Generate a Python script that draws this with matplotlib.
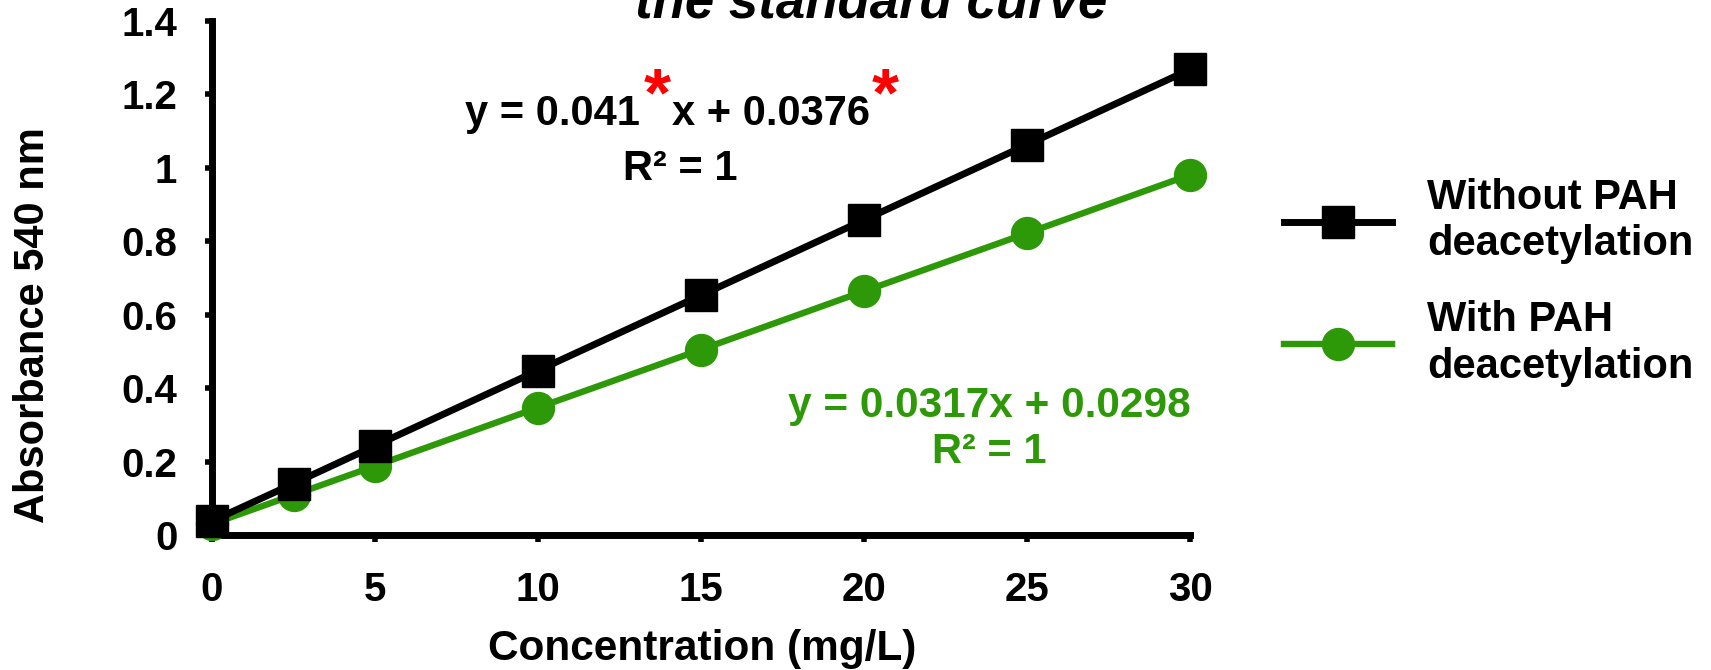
import matplotlib
matplotlib.use("Agg")
import matplotlib.pyplot as plt

plt.rcParams['font.family'] = ['Liberation Sans', 'DejaVu Sans']
plt.rcParams['font.weight'] = 'bold'

# ---- data ----
conc = [0, 2.5, 5, 10, 15, 20, 25, 30]
abs_without = [0.038, 0.140, 0.243, 0.448, 0.653, 0.858, 1.063, 1.268]
abs_with = [0.030, 0.109, 0.188, 0.347, 0.505, 0.664, 0.822, 0.981]
labels = ["Without PAH\ndeacetylation", "With PAH\ndeacetylation"]
xticks = [0, 5, 10, 15, 20, 25, 30]
yticks = [0, 0.2, 0.4, 0.6, 0.8, 1.0, 1.2, 1.4]
ytick_labels = ["0", "0.2", "0.4", "0.6", "0.8", "1", "1.2", "1.4"]
eq_black = ["y = 0.041", "*", "x + 0.0376", "*"]
eq_green = "y = 0.0317x + 0.0298"
r2_text = "R² = 1"
title = "the standard curve"

GREEN = "#2E9908"
FS = 30

W, H = 1711, 670
fig = plt.figure(figsize=(W / 100, H / 100), dpi=100)


def fpos(x, y):
    """pixel position (from top-left) -> figure fraction"""
    return x / W, 1 - y / H


ax = fig.add_axes([212 / W, 1 - 535 / H, (1190 - 212) / W, (535 - 21) / H])

l1, = ax.plot(conc, abs_without, color="black", lw=5, marker="s", ms=23,
              mfc="black", mec="black", clip_on=False, zorder=4, label=labels[0])
l2, = ax.plot(conc, abs_with, color=GREEN, lw=4.6, marker="o", ms=23,
              mfc=GREEN, mec=GREEN, clip_on=False, zorder=3, label=labels[1])

ax.set_xlim(0, 30)
ax.set_ylim(0, 1.4)
ax.set_xticks(xticks)
ax.set_yticks(yticks)
ax.set_yticklabels(ytick_labels)
for s in ["top", "right"]:
    ax.spines[s].set_visible(False)
for s in ["left", "bottom"]:
    ax.spines[s].set_linewidth(5)
    ax.spines[s].set_capstyle("projecting")
ax.tick_params(axis="both", direction="out", length=5, width=4,
               labelsize=29, colors="black")
ax.tick_params(axis="x", pad=36 * 0.72 - 5)
ax.tick_params(axis="y", pad=20)
for t in ax.get_xticklabels() + ax.get_yticklabels():
    t.set_fontweight("bold")

fig.text(*fpos(702, 660), "Concentration (mg/L)", ha="center", va="baseline",
         fontsize=FS + 0.5, fontweight="bold")
fig.text(*fpos(33, 325), "Absorbance 540 nm", ha="center", va="center",
         rotation=90, fontsize=FS, fontweight="bold")
fig.text(*fpos(871, 18), title, ha="center", va="baseline",
         fontsize=38, fontweight="bold", fontstyle="italic")

# black equation built piece by piece (positions chained from measured extents)
fig.canvas.draw()
r = fig.canvas.get_renderer()
bx, by = 465, H - 125  # display pixels (origin bottom-left)
t0 = fig.text(bx, by, eq_black[0], transform=None, fontsize=FS,
              fontweight="bold", va="baseline", ha="left", color="black")
e0 = t0.get_window_extent(r)
a1 = fig.text(e0.x1 + 4, by + 10, eq_black[1], transform=None, fontsize=50,
              fontweight="bold", va="baseline", ha="left", color="red")
e1 = a1.get_window_extent(r)
t2 = fig.text(e1.x1 + 1, by, eq_black[2], transform=None, fontsize=FS,
              fontweight="bold", va="baseline", ha="left", color="black")
e2 = t2.get_window_extent(r)
fig.text(e2.x1 + 2, by + 10, eq_black[3], transform=None, fontsize=50,
         fontweight="bold", va="baseline", ha="left", color="red")
fig.text(*fpos(680, 180), r2_text, fontsize=FS, fontweight="bold",
         va="baseline", ha="center", color="black")

fig.text(*fpos(989, 417), eq_green, fontsize=FS + 0.5, fontweight="bold",
         va="baseline", ha="center", color=GREEN)
fig.text(*fpos(989, 463), r2_text, fontsize=FS, fontweight="bold",
         va="baseline", ha="center", color=GREEN)

leg = fig.legend(handles=[l1, l2], loc="upper left",
                 bbox_to_anchor=fpos(1284, 178), frameon=False,
                 prop={"weight": "bold", "size": FS},
                 handlelength=2.6, handletextpad=0.84, labelspacing=0.87,
                 borderpad=0, borderaxespad=0)

fig.savefig("out.png", dpi=100)
